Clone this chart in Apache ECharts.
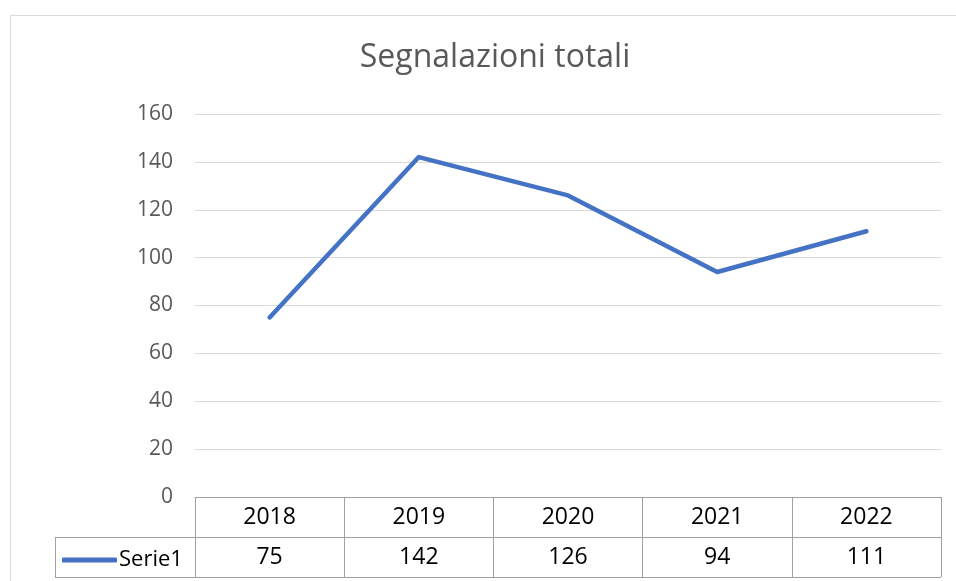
<!DOCTYPE html>
<html>
<head>
<meta charset="utf-8">
<script src="https://cdn.jsdelivr.net/npm/echarts@6/dist/echarts.min.js"></script>
<style>
html,body{margin:0;padding:0;background:#fff;}
#chart{width:956px;height:581px;}
</style>
</head>
<body>
<div id="chart"></div>
<script>
const categories = ['2018', '2019', '2020', '2021', '2022'];
const seriesName = 'Serie1';
const values = [75, 142, 126, 94, 111];
const yTicks = [0, 20, 40, 60, 80, 100, 120, 140, 160];

const FONT = 'Open Sans';
const chart = echarts.init(document.getElementById('chart'), null, {renderer: 'canvas'});
const tableColor = '#a0a0a0';

chart.setOption({
  backgroundColor: '#ffffff',
  animation: false,
  title: {
    text: 'Segnalazioni totali',
    left: 490, top: 37, textAlign: 'center',
    textStyle: {fontFamily: FONT, fontSize: 32, fontWeight: 'normal', color: '#595959'}
  },
  legend: {
    data: [seriesName],
    left: 57, top: 544,
    itemWidth: 55, itemHeight: 5, itemGap: 0,
    icon: 'roundRect',
    textStyle: {fontFamily: FONT, fontSize: 22, color: '#000', padding: [0, 0, 0, -3]}
  },
  grid: {left: 195, right: 15, top: 114, bottom: 84, containLabel: false},
  xAxis: {
    type: 'category',
    data: categories,
    boundaryGap: true,
    axisLine: {show: true, lineStyle: {color: tableColor, width: 1}},
    axisTick: {show: true, inside: false, length: 80, interval: 0, alignWithLabel: false, lineStyle: {color: tableColor, width: 1}},
    axisLabel: {
      interval: 0, margin: 0,
      formatter: function (v, i) { return '{y|' + v + '}\n{v|' + values[i] + '}'; },
      rich: {
        y: {fontFamily: FONT, fontSize: 23, color: '#000', lineHeight: 40, height: 40, verticalAlign: 'middle'},
        v: {fontFamily: FONT, fontSize: 23, color: '#000', lineHeight: 40, height: 40, verticalAlign: 'middle'}
      }
    },
    splitLine: {show: false}
  },
  yAxis: {
    type: 'value',
    min: yTicks[0], max: yTicks[yTicks.length - 1], interval: 20,
    axisLine: {show: false}, axisTick: {show: false},
    axisLabel: {fontFamily: FONT, fontSize: 21, color: '#595959', margin: 22},
    splitLine: {show: true, lineStyle: {color: '#d9d9d9', width: 1}}
  },
  series: [{
    name: seriesName,
    type: 'line',
    data: values,
    symbol: 'none',
    lineStyle: {color: '#4472C4', width: 4.5, cap: 'round', join: 'round'},
    itemStyle: {color: '#4472C4'}
  }],
  graphic: [
    {type: 'rect', silent: true, z: -10, shape: {x: 10.5, y: 15.5, width: 1000, height: 1000}, style: {fill: null, stroke: '#d9d9d9', lineWidth: 1}},
    {type: 'line', silent: true, shape: {x1: 55, y1: 537.5, x2: 941, y2: 537.5}, style: {stroke: tableColor, lineWidth: 1}},
    {type: 'line', silent: true, shape: {x1: 55, y1: 577.5, x2: 941, y2: 577.5}, style: {stroke: tableColor, lineWidth: 1}},
    {type: 'line', silent: true, shape: {x1: 55.5, y1: 537, x2: 55.5, y2: 578}, style: {stroke: tableColor, lineWidth: 1}}
  ]
});
</script>
</body>
</html>
